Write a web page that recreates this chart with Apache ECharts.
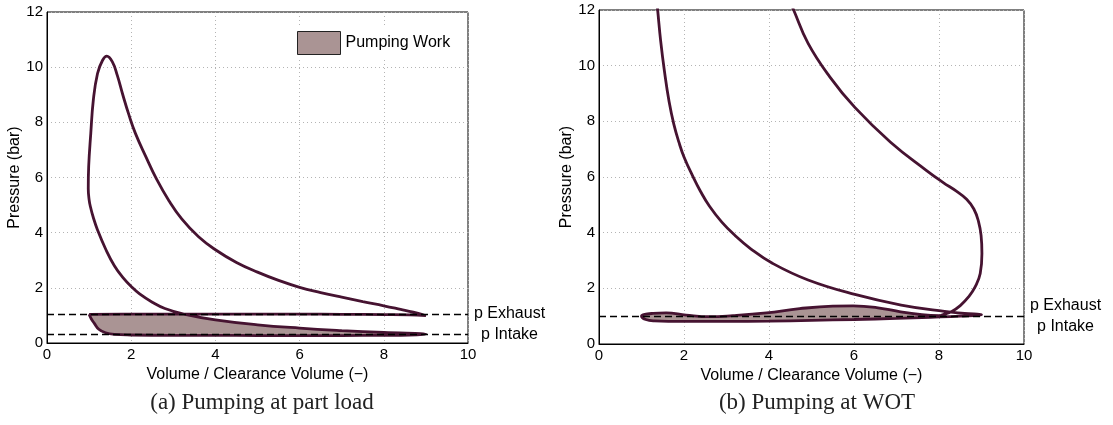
<!DOCTYPE html>
<html>
<head>
<meta charset="utf-8">
<title>Pumping work</title>
<script src="https://cdn.jsdelivr.net/npm/echarts@6/dist/echarts.min.js"></script>
<style>
  html, body { margin: 0; padding: 0; background: #fff; }
  #main { width: 1113px; height: 425px; }
</style>
</head>
<body>
<div id="main"></div>
<script>
// ---- data: [volume ratio, pressure bar] ----
// (a) part load, one stroke per array, in cycle order
var partIntake = [[1.0,1.04],[1.05,0.88],[1.12,0.72],[1.23,0.5],[1.39,0.37],[1.6,0.31],[2.0,0.29],[3.0,0.28],[4.0,0.28],[5.0,0.27],[6.0,0.27],[7.0,0.27],[8.0,0.28],[8.6,0.29],[9.0,0.32]];
var partCompression = [[9.0,0.32],[8.0,0.38],[7.0,0.45],[6.0,0.54],[5.0,0.66],[4.0,0.84],[3.25,1.05],[2.8,1.25],[2.5,1.48],[2.2,1.78],[2.0,2.05],[1.8,2.38],[1.6,2.8],[1.4,3.38],[1.2,4.1],[1.1,4.55],[1.03,4.95],[1.0,5.2]];
var partExpansion = [[1.0,5.2],[0.98,5.6],[0.99,6.4],[1.04,7.6],[1.1,8.8],[1.2,9.77],[1.32,10.25],[1.42,10.4],[1.55,10.2],[1.67,9.7],[1.8,9.0],[1.95,8.25],[2.1,7.6],[2.35,6.75],[2.6,5.95],[2.9,5.15],[3.2,4.5],[3.6,3.85],[4.0,3.38],[4.5,2.92],[5.0,2.57],[5.5,2.27],[6.0,2.02],[6.5,1.83],[7.0,1.66],[7.5,1.5],[8.0,1.35],[8.4,1.22],[8.7,1.12],[8.9,1.04],[9.0,0.99]];
var partExhaust = [[9.0,0.99],[8.6,1.02],[8.0,1.03],[7.0,1.04],[6.0,1.05],[5.0,1.05],[4.0,1.05],[3.25,1.05],[2.0,1.05],[1.0,1.04]];
var partPExhaust = 1.05;
var partPIntake = 0.3;

// (b) wide open throttle (curves leave the plot at the top)
var wotExpansion = [[4.5,12.3],[4.58,12.0],[4.92,10.8],[5.43,9.6],[6.02,8.5],[6.86,7.25],[7.7,6.24],[8.1,5.8],[8.4,5.5],[8.65,5.2],[8.82,4.85],[8.93,4.4],[8.99,3.9],[9.01,3.25],[8.97,2.53],[8.85,2.05],[8.7,1.7],[8.5,1.38],[8.3,1.17],[8.1,1.06],[8.0,1.02]];
var wotExhaust = [[8.0,1.02],[7.55,1.06],[7.07,1.16],[6.53,1.31],[5.98,1.37],[5.5,1.36],[4.72,1.27],[3.94,1.12],[3.15,1.02],[2.6,0.98],[2.05,1.04],[1.58,1.12],[1.27,1.1],[1.0,1.0]];
var wotIntake = [[1.0,1.0],[1.1,0.88],[1.3,0.83],[2.0,0.81],[3.0,0.81],[4.0,0.82],[5.0,0.85],[6.0,0.88],[7.0,0.92],[7.8,0.96],[8.5,1.0],[9.0,1.05]];
var wotCompression = [[9.0,1.05],[8.6,1.1],[8.13,1.17],[7.11,1.4],[6.02,1.78],[4.92,2.3],[4.08,2.9],[3.57,3.42],[3.2,3.9],[2.89,4.38],[2.6,4.95],[2.39,5.48],[2.2,6.05],[2.0,6.72],[1.88,7.25],[1.76,7.9],[1.65,8.7],[1.54,9.8],[1.45,10.9],[1.38,12.0],[1.34,12.6]];
var wotPExhaust = 1.0;
var wotPIntake = 1.0;

var captions = ['(a) Pumping at part load', '(b) Pumping at WOT'];
var xName = 'Volume / Clearance Volume (\u2212)';
var yName = 'Pressure (bar)';
var fillName = 'Pumping Work';

// ---- build ----
var lineColor = '#461331';
var fillColor = '#aa9494';
var sans = 'Liberation Sans, Arial, sans-serif';

function join() {
  var out = [];
  for (var i = 0; i < arguments.length; i++) {
    var seg = arguments[i];
    out = out.concat(out.length ? seg.slice(1) : seg);
  }
  return out;
}

// part load pumping loop: exhaust till the crossing, intake, back up the compression
var crossV = 3.25;
var partPump = partExhaust.filter(function (d) { return d[0] <= crossV; })
  .concat(partIntake.slice(1))
  .concat(partCompression.filter(function (d) { return d[0] >= crossV; }).slice(1));
// WOT pumping loop: exhaust stroke and intake stroke up to where they meet
var wotPump = wotExhaust.concat(wotIntake.filter(function (d) { return d[0] <= 8.0; }).slice(1));

function polygonItem(points) {
  return function (params, api) {
    if (params.dataIndex !== 0) return null;
    return {
      type: 'polygon',
      shape: { points: points.map(function (d) { return api.coord(d); }), smooth: 0.3 },
      style: { fill: fillColor, stroke: null }
    };
  };
}

function xAxisOf(i) {
  return {
    gridIndex: i, type: 'value', min: 0, max: 10, interval: 2,
    name: xName, nameLocation: 'middle', nameGap: 14,
    nameTextStyle: { fontSize: 16, fontFamily: sans, color: '#000' },
    axisLine: { onZero: false, lineStyle: { color: '#000', width: 1 } },
    axisTick: { show: false },
    axisLabel: { fontSize: 15, fontFamily: sans, color: '#000', margin: 4 },
    splitLine: { show: true, lineStyle: { color: '#b4b4b4', type: [1, 3], width: 1 } }
  };
}
function yAxisOf(i) {
  return {
    gridIndex: i, type: 'value', min: 0, max: 12, interval: 2,
    name: yName, nameLocation: 'middle', nameGap: 17,
    nameTextStyle: { fontSize: 16, fontFamily: sans, color: '#000' },
    axisLine: { onZero: false, lineStyle: { color: '#000', width: 1 } },
    axisTick: { show: false },
    axisLabel: { fontSize: 15, fontFamily: sans, color: '#000', margin: 4 },
    splitLine: { show: true, lineStyle: { color: '#b4b4b4', type: [1, 3], width: 1 } }
  };
}

function cycleLine(i, data) {
  return {
    type: 'line', xAxisIndex: i, yAxisIndex: i, data: data,
    showSymbol: false, smooth: 0.45, clip: true, z: 3,
    lineStyle: { color: lineColor, width: 2.8 },
    emphasis: { disabled: true }, silent: true
  };
}

function levelLines(i, items) {
  return {
    type: 'line', xAxisIndex: i, yAxisIndex: i, data: [], z: 4, silent: true,
    markLine: {
      silent: true, symbol: ['none', 'none'], animation: false,
      lineStyle: { color: '#000', type: [7, 4], width: 1.4 },
      label: {
        show: true, position: 'end', distance: 3,
        rich: { a: { width: 77, align: 'center', fontSize: 16, fontFamily: sans, color: '#000', lineHeight: 21.6 } }
      },
      data: items
    }
  };
}

var chart = echarts.init(document.getElementById('main'));
chart.setOption({
  animation: false,
  backgroundColor: '#fff',
  title: [
    { text: captions[0], left: 257, top: 386, textAlign: 'center',
      textStyle: { fontFamily: 'Liberation Serif, serif', fontWeight: 'normal', fontSize: 23, color: '#222' } },
    { text: captions[1], left: 812, top: 386, textAlign: 'center',
      textStyle: { fontFamily: 'Liberation Serif, serif', fontWeight: 'normal', fontSize: 23, color: '#222' } }
  ],
  legend: {
    data: [{ name: fillName, icon: 'rect', itemStyle: { color: fillColor, borderColor: '#222', borderWidth: 1 } }],
    left: 293, top: 27, padding: [4, 6, 4, 4],
    itemWidth: 43, itemHeight: 23, backgroundColor: '#fff',
    selectedMode: false,
    textStyle: { fontSize: 16, fontFamily: sans, color: '#000' }
  },
  grid: [
    { left: 47, top: 12, width: 421, height: 331, show: true, borderColor: '#000', borderWidth: 1, backgroundColor: 'transparent' },
    { left: 599, top: 10, width: 425, height: 334, show: true, borderColor: '#000', borderWidth: 1, backgroundColor: 'transparent' }
  ],
  xAxis: [xAxisOf(0), xAxisOf(1)],
  yAxis: [yAxisOf(0), yAxisOf(1)],
  series: [
    { type: 'custom', name: fillName, xAxisIndex: 0, yAxisIndex: 0, data: partPump, z: 2, silent: true,
      renderItem: polygonItem(partPump) },
    { type: 'custom', name: 'wotPump', xAxisIndex: 1, yAxisIndex: 1, data: wotPump, z: 2, silent: true,
      renderItem: polygonItem(wotPump) },
    cycleLine(0, join(partIntake, partCompression, partExpansion, partExhaust)),
    cycleLine(1, join(wotExpansion, wotExhaust, wotIntake, wotCompression)),
    levelLines(0, [
      { yAxis: partPExhaust, label: { formatter: '{a|p Exhaust}' } },
      { yAxis: partPIntake, label: { formatter: '{a|p Intake}' } }
    ]),
    levelLines(1, [
      { yAxis: wotPExhaust, label: { formatter: '{a|p Exhaust}\n{a|p Intake}' } }
    ])
  ]
});
</script>
</body>
</html>
